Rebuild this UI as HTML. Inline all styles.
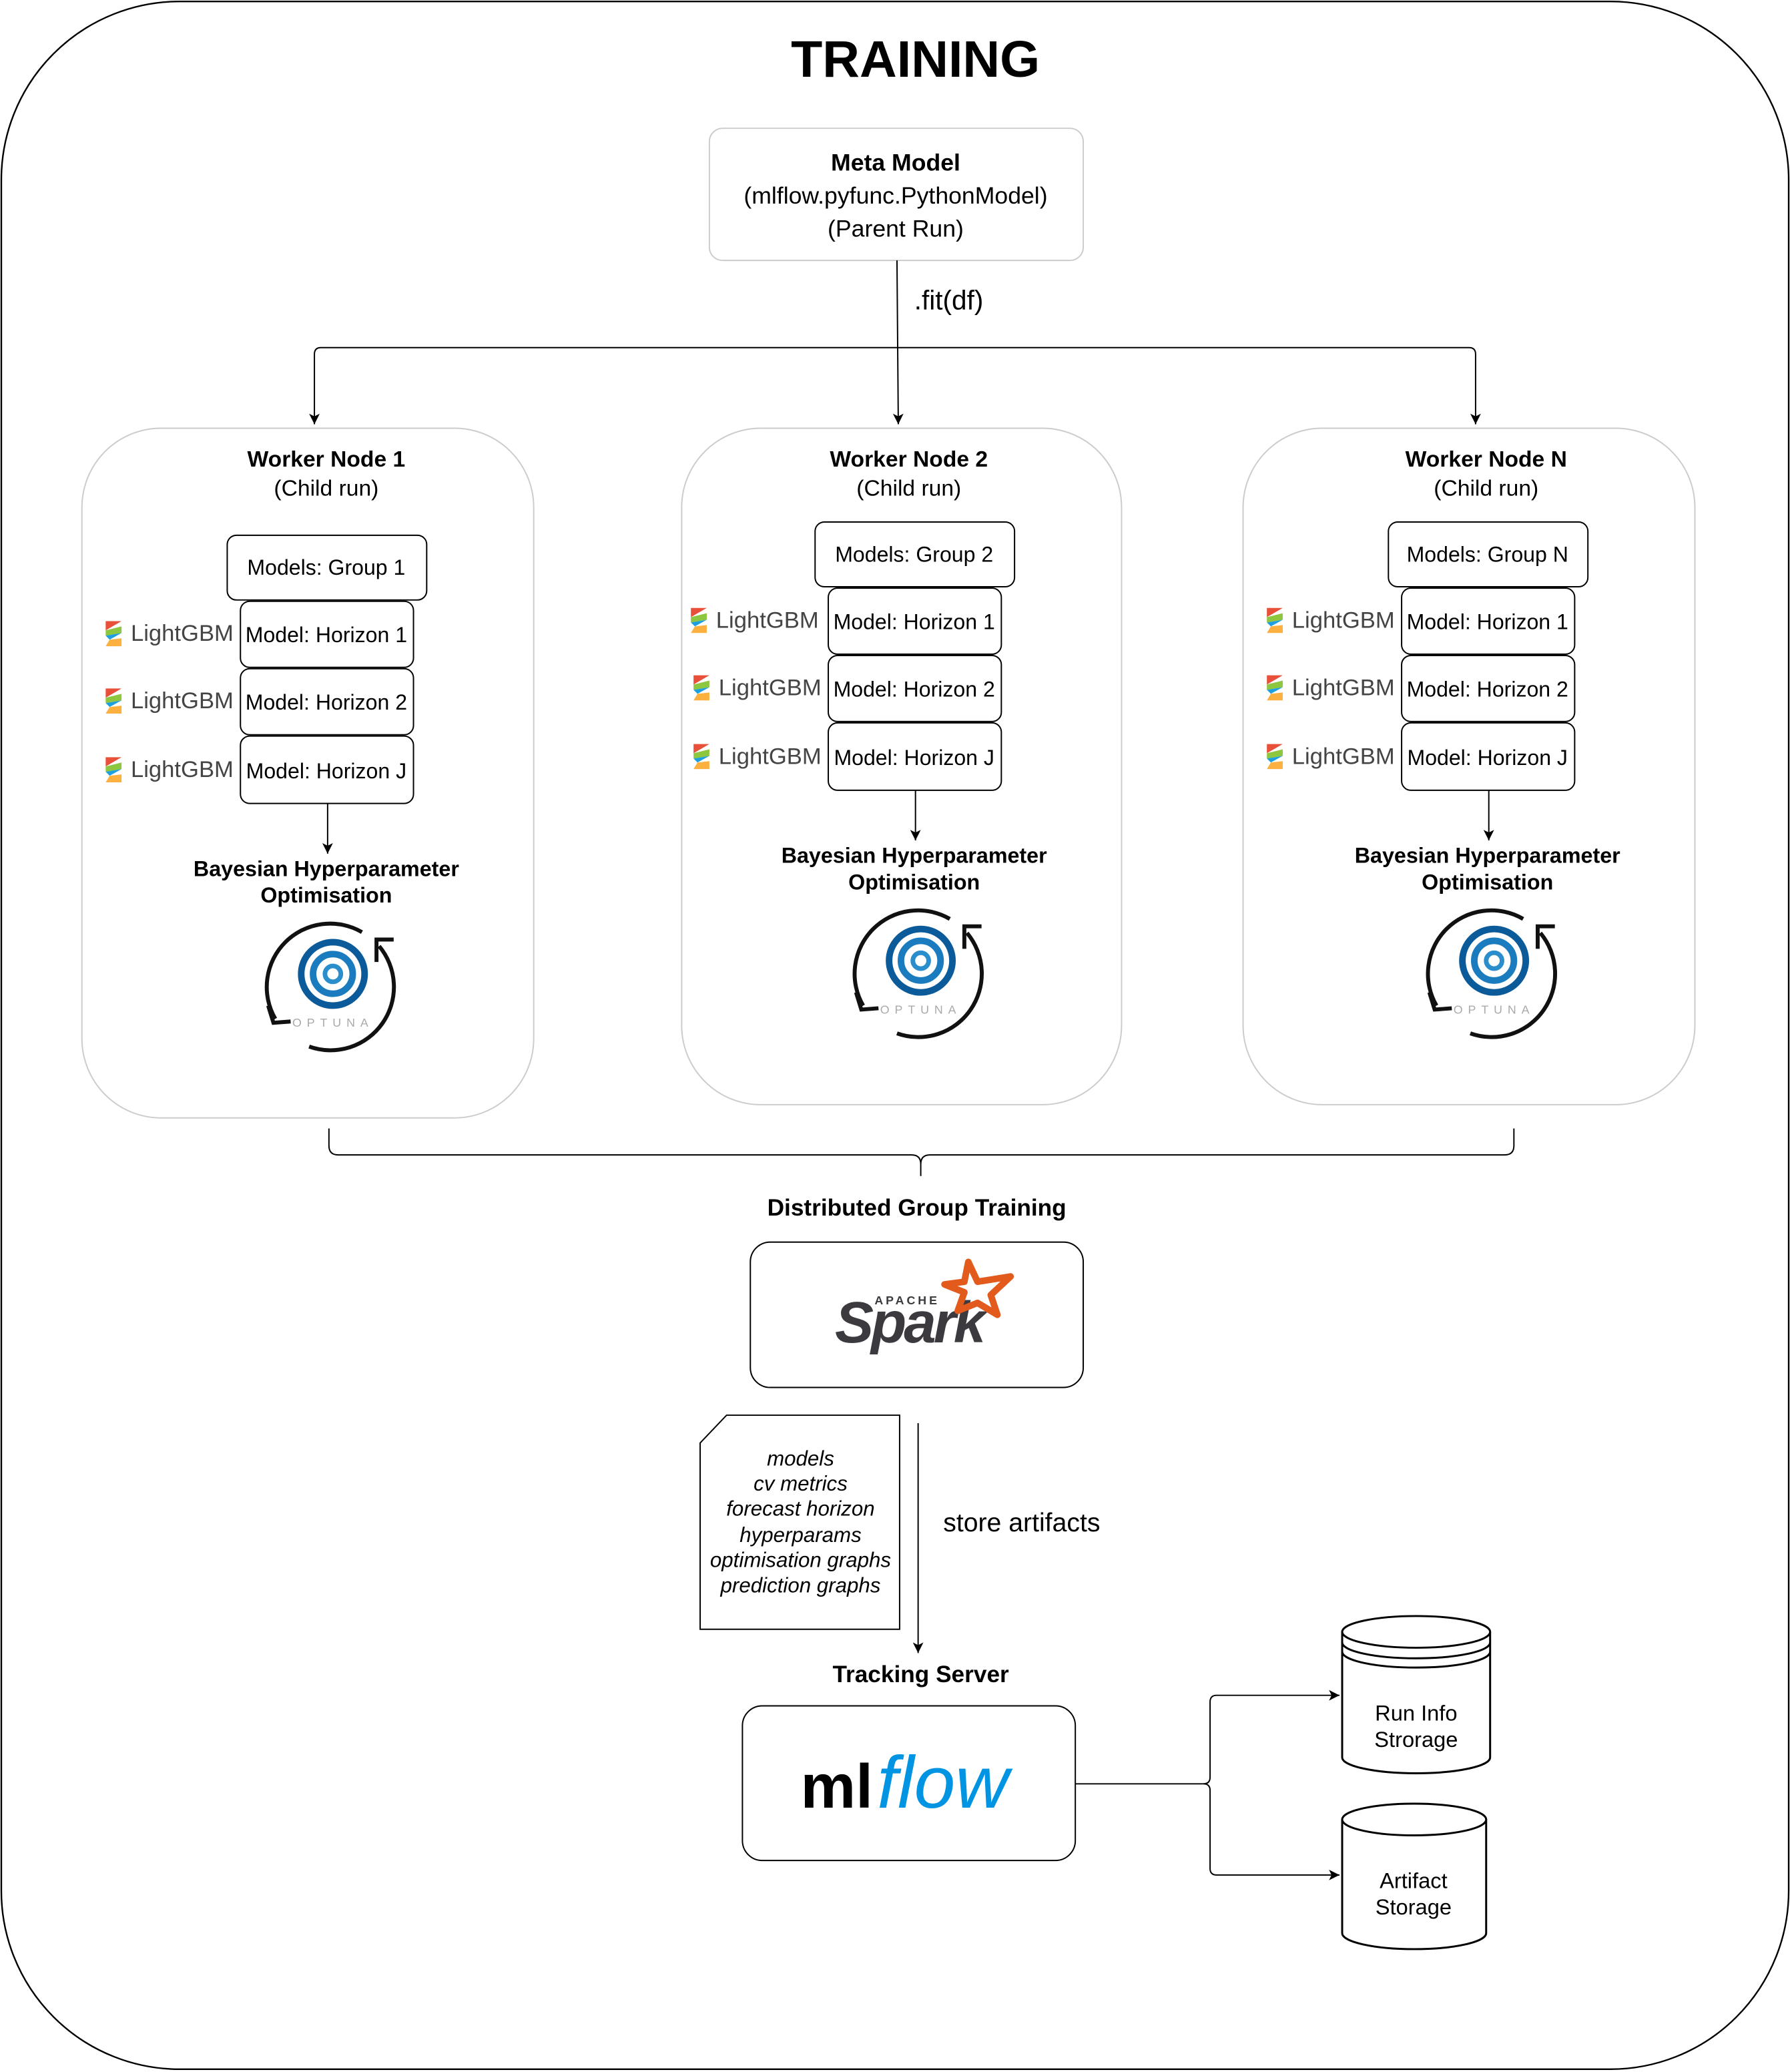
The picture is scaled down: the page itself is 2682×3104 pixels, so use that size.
<!DOCTYPE html>
<html><head><meta charset="utf-8"><style>
html,body{margin:0;padding:0;background:#fff}
svg{display:block}
text{font-family:"Liberation Sans",Arial,sans-serif;fill:#000}
.b{font-weight:bold}
</style></head><body>
<svg width="2682" height="3104" viewBox="0 0 1355 1568" xmlns="http://www.w3.org/2000/svg">
<defs>
<marker id="ah" markerWidth="10" markerHeight="10" refX="9" refY="5" orient="auto" markerUnits="userSpaceOnUse">
<path d="M1,1 L9,5 L1,9 L3,5 Z" fill="#000"/></marker>
<g id="lgbm">
<polygon points="0,0 12,0 0,7" fill="#e8503a"/>
<polygon points="0,7 12,4 12,9 0,11" fill="#8dc63f"/>
<polygon points="0,11 12,9 3,14" fill="#1ea0e0"/>
<polygon points="0,19 3,14 12,13 12,19" fill="#fbb040"/>
<text x="19" y="15" font-size="17.5" style="fill:#444">LightGBM</text>
</g>
<g id="optuna">
<circle cx="0" cy="0" r="24" fill="none" stroke="#0b5b9a" stroke-width="5"/>
<circle cx="0" cy="0" r="15" fill="none" stroke="#1a7bbf" stroke-width="5"/>
<circle cx="0" cy="0" r="6" fill="none" stroke="#2a8dcc" stroke-width="3.5"/>
<text x="0" y="40" font-size="9" text-anchor="middle" letter-spacing="4" style="fill:#aaa">OPTUNA</text>
<path d="M22,-31.6 A48,48 0 0 0 -43.6,34" fill="none" stroke="#111" stroke-width="3"/>
<path d="M-49,24 L-45,37 L-32,36" fill="none" stroke="#111" stroke-width="3"/>
<path d="M-18,55 A48,48 0 0 0 35,-21" fill="none" stroke="#111" stroke-width="3"/>
<path d="M33,-9 L33,-26 L46,-26" fill="none" stroke="#111" stroke-width="3"/>
</g>
</defs>

<rect x="1" y="1" width="1353" height="1565" rx="135" fill="none" stroke="#000" stroke-width="1.2"/>
<text x="693" y="58" font-size="39" text-anchor="middle" class="b">TRAINING</text>

<rect x="537" y="97" width="283" height="100" rx="10" fill="#fff" stroke="#ccc"/>
<text x="678" y="129" font-size="18" text-anchor="middle" class="b">Meta Model</text>
<text x="678" y="154" font-size="18" text-anchor="middle">(mlflow.pyfunc.PythonModel)</text>
<text x="678" y="179" font-size="18" text-anchor="middle">(Parent Run)</text>

<path d="M679,197 L680,321" fill="none" stroke="#000" marker-end="url(#ah)"/>
<path d="M680,263 L243,263 Q238,263 238,268 L238,321" fill="none" stroke="#000" marker-end="url(#ah)"/>
<path d="M680,263 L1112,263 Q1117,263 1117,268 L1117,321" fill="none" stroke="#000" marker-end="url(#ah)"/>
<text x="692" y="234" font-size="20.5">.fit(df)</text>

<!-- Worker 1 -->
<rect x="62" y="324" width="342" height="522" rx="60" fill="none" stroke="#ccc"/>
<text x="247" y="353" font-size="17" text-anchor="middle" class="b">Worker Node 1</text>
<text x="247" y="375" font-size="17" text-anchor="middle">(Child run)</text>
<rect x="172" y="405" width="151" height="49" rx="7" fill="#fff" stroke="#000"/>
<text x="247" y="435" font-size="16.2" text-anchor="middle">Models: Group 1</text>
<rect x="182" y="455" width="131" height="50" rx="7" fill="#fff" stroke="#000"/>
<text x="247" y="486" font-size="16.2" text-anchor="middle">Model: Horizon 1</text>
<rect x="182" y="506" width="131" height="50" rx="7" fill="#fff" stroke="#000"/>
<text x="247" y="537" font-size="16.2" text-anchor="middle">Model: Horizon 2</text>
<rect x="182" y="557" width="131" height="51" rx="7" fill="#fff" stroke="#000"/>
<text x="247" y="589" font-size="16.2" text-anchor="middle">Model: Horizon J</text>
<use href="#lgbm" x="80" y="470"/><use href="#lgbm" x="80" y="521"/><use href="#lgbm" x="80" y="573"/>
<path d="M248,608 L248,646" stroke="#000" marker-end="url(#ah)"/>
<text x="247" y="663" font-size="16.3" text-anchor="middle" class="b">Bayesian Hyperparameter</text>
<text x="247" y="683" font-size="16.3" text-anchor="middle" class="b">Optimisation</text>
<use href="#optuna" x="252" y="737"/>

<!-- Worker 2 -->
<rect x="516" y="324" width="333" height="512" rx="60" fill="none" stroke="#ccc"/>
<text x="688" y="353" font-size="17" text-anchor="middle" class="b">Worker Node 2</text>
<text x="688" y="375" font-size="17" text-anchor="middle">(Child run)</text>
<rect x="617" y="395" width="151" height="49" rx="7" fill="#fff" stroke="#000"/>
<text x="692" y="425" font-size="16.2" text-anchor="middle">Models: Group 2</text>
<rect x="627" y="445" width="131" height="50" rx="7" fill="#fff" stroke="#000"/>
<text x="692" y="476" font-size="16.2" text-anchor="middle">Model: Horizon 1</text>
<rect x="627" y="496" width="131" height="50" rx="7" fill="#fff" stroke="#000"/>
<text x="692" y="527" font-size="16.2" text-anchor="middle">Model: Horizon 2</text>
<rect x="627" y="547" width="131" height="51" rx="7" fill="#fff" stroke="#000"/>
<text x="692" y="579" font-size="16.2" text-anchor="middle">Model: Horizon J</text>
<use href="#lgbm" x="523" y="460"/><use href="#lgbm" x="525" y="511"/><use href="#lgbm" x="525" y="563"/>
<path d="M693,598 L693,636" stroke="#000" marker-end="url(#ah)"/>
<text x="692" y="653" font-size="16.3" text-anchor="middle" class="b">Bayesian Hyperparameter</text>
<text x="692" y="673" font-size="16.3" text-anchor="middle" class="b">Optimisation</text>
<use href="#optuna" x="697" y="727"/>

<!-- Worker N -->
<rect x="941" y="324" width="342" height="512" rx="60" fill="none" stroke="#ccc"/>
<text x="1125" y="353" font-size="17" text-anchor="middle" class="b">Worker Node N</text>
<text x="1125" y="375" font-size="17" text-anchor="middle">(Child run)</text>
<rect x="1051" y="395" width="151" height="49" rx="7" fill="#fff" stroke="#000"/>
<text x="1126" y="425" font-size="16.2" text-anchor="middle">Models: Group N</text>
<rect x="1061" y="445" width="131" height="50" rx="7" fill="#fff" stroke="#000"/>
<text x="1126" y="476" font-size="16.2" text-anchor="middle">Model: Horizon 1</text>
<rect x="1061" y="496" width="131" height="50" rx="7" fill="#fff" stroke="#000"/>
<text x="1126" y="527" font-size="16.2" text-anchor="middle">Model: Horizon 2</text>
<rect x="1061" y="547" width="131" height="51" rx="7" fill="#fff" stroke="#000"/>
<text x="1126" y="579" font-size="16.2" text-anchor="middle">Model: Horizon J</text>
<use href="#lgbm" x="959" y="460"/><use href="#lgbm" x="959" y="511"/><use href="#lgbm" x="959" y="563"/>
<path d="M1127,598 L1127,636" stroke="#000" marker-end="url(#ah)"/>
<text x="1126" y="653" font-size="16.3" text-anchor="middle" class="b">Bayesian Hyperparameter</text>
<text x="1126" y="673" font-size="16.3" text-anchor="middle" class="b">Optimisation</text>
<use href="#optuna" x="1131" y="727"/>

<!-- brace -->
<path d="M249,854 L249,867 Q249,874 256,874 L690,874 Q697,874 697,881 L697,890 M697,881 Q697,874 704,874 L1139,874 Q1146,874 1146,867 L1146,854" fill="none" stroke="#000"/>
<text x="694" y="920" font-size="17.8" text-anchor="middle" class="b">Distributed Group Training</text>

<rect x="568" y="940" width="252" height="110" rx="15" fill="#fff" stroke="#000"/>
<text x="632" y="1016" font-size="44" font-style="italic" class="b" style="fill:#3c3a3e" letter-spacing="-2">Spark</text>
<text x="662" y="987" font-size="9" class="b" style="fill:#3c3a3e" letter-spacing="2">APACHE</text>
<polygon points="733,955 740,970 765,966 750,980 755,995 740,986 725,992 730,978 715,972 730,970" fill="none" stroke="#e25a1c" stroke-width="5" stroke-linejoin="round"/>

<path d="M550,1071 L681,1071 L681,1233 L530,1233 L530,1092 Z" fill="#fff" stroke="#000"/>
<g font-size="15.8" font-style="italic" text-anchor="middle">
<text x="606" y="1109">models</text>
<text x="606" y="1128">cv metrics</text>
<text x="606" y="1147">forecast horizon</text>
<text x="606" y="1167">hyperparams</text>
<text x="606" y="1186">optimisation graphs</text>
<text x="606" y="1205">prediction graphs</text>
</g>
<path d="M695,1077 L695,1251" stroke="#000" marker-end="url(#ah)"/>
<text x="714" y="1159" font-size="19.8">store artifacts</text>
<text x="697" y="1273" font-size="17.8" text-anchor="middle" class="b">Tracking Server</text>

<rect x="562" y="1291" width="252" height="117" rx="15" fill="#fff" stroke="#000"/>
<text x="606" y="1368" font-size="47" class="b">ml</text>
<text x="664" y="1368" font-size="56" font-style="italic" style="fill:#0194e2">flow</text>

<path d="M814,1350 L911,1350 Q916,1350 916,1345 L916,1288 Q916,1283 921,1283 L1014,1283" fill="none" stroke="#000" marker-end="url(#ah)"/>
<path d="M911,1350 Q916,1350 916,1355 L916,1414 Q916,1419 921,1419 L1014,1419" fill="none" stroke="#000" marker-end="url(#ah)"/>

<!-- cylinder 1 -->
<path d="M1016,1235 L1016,1330 A56,12 0 0 0 1128,1330 L1128,1235" fill="#fff" stroke="#000" stroke-width="1.5"/>
<ellipse cx="1072" cy="1235" rx="56" ry="12" fill="#fff" stroke="#000" stroke-width="1.5"/>
<path d="M1016,1243 A56,12 0 0 0 1128,1243 M1016,1250 A56,12 0 0 0 1128,1250" fill="none" stroke="#000" stroke-width="1.5"/>
<text x="1072" y="1302" font-size="16.5" text-anchor="middle">Run Info</text>
<text x="1072" y="1322" font-size="16.5" text-anchor="middle">Strorage</text>
<!-- cylinder 2 -->
<path d="M1016,1377 L1016,1463 A54,12 0 0 0 1125,1463 L1125,1377" fill="#fff" stroke="#000" stroke-width="1.5"/>
<ellipse cx="1070.5" cy="1377" rx="54.5" ry="12" fill="#fff" stroke="#000" stroke-width="1.5"/>
<text x="1070" y="1429" font-size="16.5" text-anchor="middle">Artifact</text>
<text x="1070" y="1449" font-size="16.5" text-anchor="middle">Storage</text>
</svg>
</body></html>
